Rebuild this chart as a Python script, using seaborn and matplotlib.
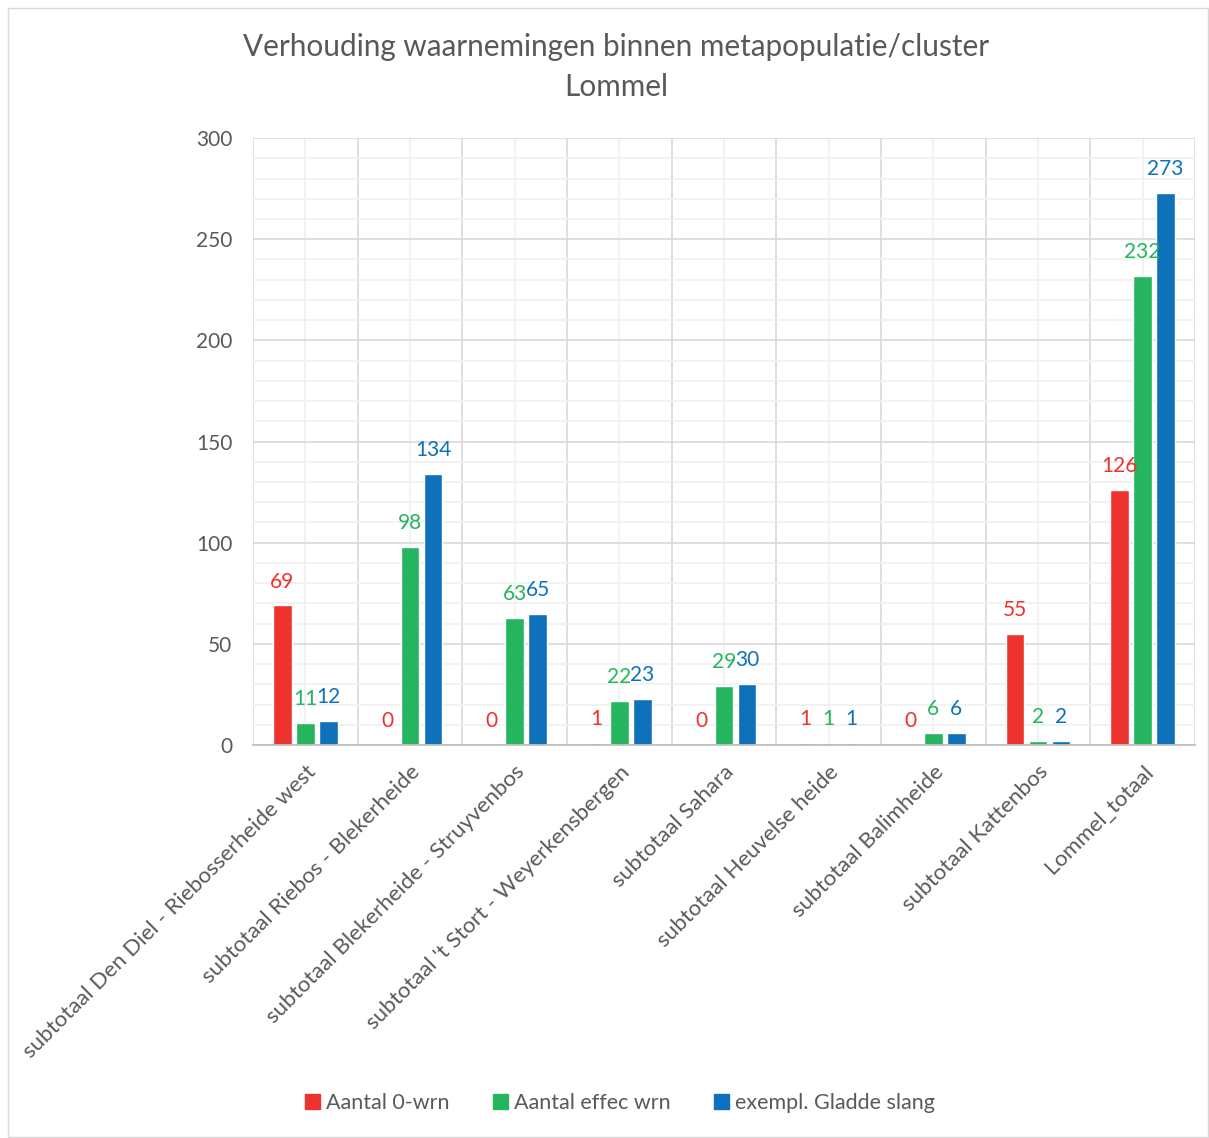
import numpy as np
import pandas as pd
import matplotlib.pyplot as plt
import matplotlib.patches as mpatches
import seaborn as sns

# chart data
categories = [
    "subtotaal Den Diel - Riebosserheide west",
    "subtotaal Riebos - Blekerheide",
    "subtotaal Blekerheide - Struyvenbos",
    "subtotaal 't Stort - Weyerkensbergen",
    "subtotaal Sahara",
    "subtotaal Heuvelse heide",
    "subtotaal Balimheide",
    "subtotaal Kattenbos",
    "Lommel_totaal",
]
series_names = ["Aantal 0-wrn", "Aantal effec wrn", "exempl. Gladde slang"]
aantal_0_wrn = [69, 0, 0, 1, 0, 1, 0, 55, 126]
aantal_effec_wrn = [11, 98, 63, 22, 29, 1, 6, 2, 232]
gladde_slang = [12, 134, 65, 23, 30, 1, 6, 2, 273]
colors = ["#EE322E", "#24B55E", "#0E71BA"]

TEXT = "#595959"


def build_frame():
    rows = []
    for name, vals in zip(series_names, [aantal_0_wrn, aantal_effec_wrn, gladde_slang]):
        for cat, v in zip(categories, vals):
            rows.append({"categorie": cat, "reeks": name, "waarde": v})
    return pd.DataFrame(rows)


def main():
    sns.set_style("white")
    plt.rcParams["font.family"] = ["Lato", "DejaVu Sans"]

    df = build_frame()
    fig = plt.figure(figsize=(12.09, 11.38), dpi=100)
    ax = fig.add_axes([0.2093, 0.3453, 0.9884 - 0.2093, 0.8787 - 0.3453])

    sns.barplot(data=df, x="categorie", y="waarde", hue="reeks",
                palette=colors, width=0.66, gap=0.18, ax=ax,
                legend=False, saturation=1, errorbar=None)

    # data labels
    for cont, col in zip(ax.containers, colors):
        ax.bar_label(cont, padding=10, color=col, fontsize=15)

    ax.set_xlim(-0.5, len(categories) - 0.5)
    ax.set_ylim(0, 300)
    ax.set_yticks(np.arange(0, 301, 50))
    ax.set_yticks(np.arange(0, 301, 10), minor=True)
    ax.set_xticks(np.arange(-0.5, len(categories), 1.0), minor=True)

    ax.set_axisbelow(True)
    ax.grid(which="major", axis="y", color="#D9D9D9", lw=1.2)
    ax.grid(which="minor", axis="y", color="#F0F0F0", lw=1.2)
    ax.grid(which="major", axis="x", color="#F0F0F0", lw=1.2)
    ax.grid(which="minor", axis="x", color="#D9D9D9", lw=1.2)

    for s in ["top", "right", "left"]:
        ax.spines[s].set_visible(False)
    ax.spines["bottom"].set_color("#BFBFBF")
    ax.spines["bottom"].set_linewidth(1.3)

    ax.tick_params(axis="both", which="both", length=0)
    ax.tick_params(axis="y", labelsize=15, labelcolor=TEXT, pad=15)
    ax.tick_params(axis="x", labelsize=16, labelcolor=TEXT, pad=12)
    ax.set_xticks(range(len(categories)))
    ax.set_xticklabels(categories, rotation=45, ha="right", rotation_mode="anchor")
    ax.set_xlabel("")
    ax.set_ylabel("")

    fig.text(0.5095, 0.941, "Verhouding waarnemingen binnen metapopulatie/cluster\nLommel",
             ha="center", va="center", fontsize=21.4, color=TEXT, linespacing=1.5)

    handles = [mpatches.Patch(color=c, label=n) for c, n in zip(colors, series_names)]
    fig.legend(handles=handles, loc="center", bbox_to_anchor=(620 / 1209, 1 - 1103 / 1138),
               ncol=3, frameon=False, fontsize=15.5, labelcolor=TEXT,
               handlelength=0.7, handleheight=0.7, handletextpad=0.3, columnspacing=2.0)

    # outer chart border
    fig.patches.append(mpatches.Rectangle((8 / 1209, 1 / 1138), 1200 / 1209, 1129 / 1138,
                                          transform=fig.transFigure, fill=False,
                                          edgecolor="#D9D9D9", lw=1))

    fig.savefig("out.png", dpi=100)
    plt.close(fig)


if __name__ == "__main__":
    main()
